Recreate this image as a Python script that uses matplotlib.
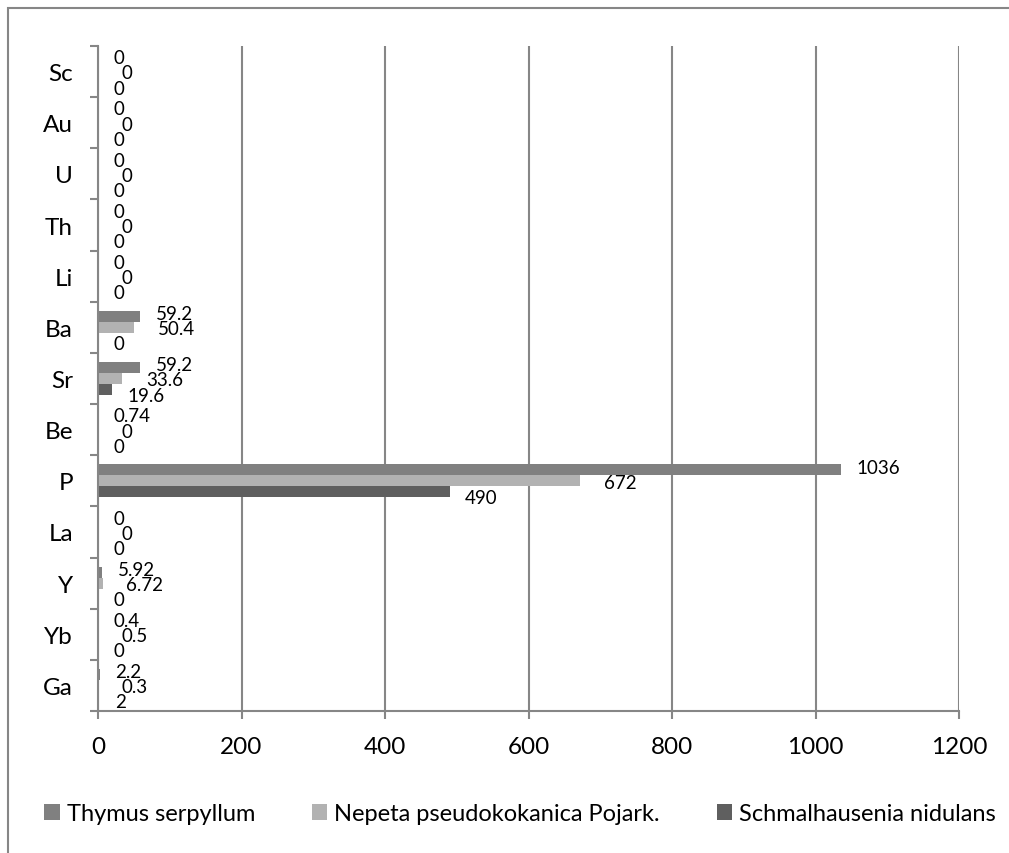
import numpy as np
import matplotlib
matplotlib.use('Agg')
import matplotlib.pyplot as plt
from matplotlib.patches import Rectangle

plt.rcParams['font.family'] = ['Lato', 'DejaVu Sans']

# 元素（从下到上）
elements = ['Ga', 'Yb', 'Y', 'La', 'P', 'Be', 'Sr', 'Ba', 'Li', 'Th', 'U', 'Au', 'Sc']
thymus = [2.2, 0.4, 5.92, 0, 1036, 0.74, 59.2, 59.2, 0, 0, 0, 0, 0]
nepeta = [0.3, 0.5, 6.72, 0, 672, 0, 33.6, 50.4, 0, 0, 0, 0, 0]
schmal = [2, 0, 0, 0, 490, 0, 19.6, 0, 0, 0, 0, 0, 0]
series_names = ['Thymus serpyllum', 'Nepeta pseudokokanica Pojark.', 'Schmalhausenia nidulans']
colors = ['#808080', '#b2b2b2', '#5f5f5f']
xticks = [0, 200, 400, 600, 800, 1000, 1200]

fig = plt.figure(figsize=(10.09, 8.54), dpi=100)
ax = fig.add_axes([98/1009, 1-712/854, (959-98)/1009, (712-47)/854])

y = np.arange(len(elements))
h = 0.215
grid_c = '#868686'

# 网格线放在柱子后面
ax.set_axisbelow(True)
ax.xaxis.grid(True, color=grid_c, linewidth=1.5)

offsets = [h, 0, -h]
label_dx = [11, 17, 11]
label_dy = [2, -1, -4]
bars = []
for vals, off, c, dx, dy, name in zip([thymus, nepeta, schmal], offsets, colors,
                                      label_dx, label_dy, series_names):
    b = ax.barh(y + off, vals, height=h, color=c, label=name)
    bars.append(b)
    for yi, v in zip(y + off, vals):
        ax.annotate(f'{v:g}', (v, yi), xytext=(dx, dy), textcoords='offset points',
                    ha='left', va='center', fontsize=13.5, color='black')

ax.set_xlim(0, 1200)
ax.set_ylim(-0.5, len(elements) - 0.5)
ax.set_xticks(xticks)
ax.set_xticklabels([str(t) for t in xticks])
ax.set_yticks(y)
ax.set_yticklabels(elements)
ax.set_yticks(np.arange(-0.5, len(elements)), minor=True)

ax.tick_params(axis='y', which='major', length=0, pad=18, labelsize=17.5)
ax.tick_params(axis='y', which='minor', length=6, width=1.5, color=grid_c)
ax.tick_params(axis='x', length=6, width=1.5, color=grid_c, pad=12, labelsize=17.5)

for s in ['top', 'right']:
    ax.spines[s].set_visible(False)
for s in ['left', 'bottom']:
    ax.spines[s].set_color(grid_c)
    ax.spines[s].set_linewidth(1.5)

# 图例
fig.legend(handles=bars, loc='center', bbox_to_anchor=(520/1009, 1-815/854), ncol=3,
           frameon=False, fontsize=17, handlelength=0.65, handleheight=0.65,
           handletextpad=0.3, columnspacing=2.4)

# 外框
fig.add_artist(Rectangle((8/1009, -0.1), 1.1, 1-9/854+0.1, transform=fig.transFigure,
                         fill=False, edgecolor=grid_c, linewidth=1.5))

plt.savefig('out.png', dpi=100)
